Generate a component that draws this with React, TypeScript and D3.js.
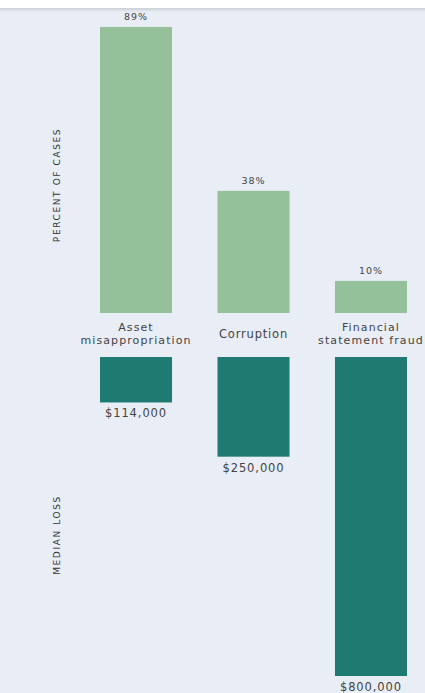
import React from "react";
import * as d3 from "d3";

const categories: string[][] = [["Asset", "misappropriation"], ["Corruption"], ["Financial", "statement fraud"]];
const categoryKeys = ["Asset misappropriation", "Corruption", "Financial statement fraud"];
const percentCases = [89, 38, 10];
const percentLabels = ["89%", "38%", "10%"];
const medianLoss = [114000, 250000, 800000];
const lossLabels = ["$114,000", "$250,000", "$800,000"];
const topTitle = "PERCENT OF CASES";
const bottomTitle = "MEDIAN LOSS";

const W = 425;
const H = 693;
const BG = "#e9edf5";
const LIGHT = "#95c19a";
const DARK = "#1f7b71";
const TEXT = "#444444";
const FONT = "'DejaVu Sans', Verdana, sans-serif";

export default function App() {
  const x = d3.scaleBand<string>().domain(categoryKeys).range([100, 407]).paddingInner(0.387).paddingOuter(0);
  const yTop = d3.scaleLinear().domain([0, 100]).range([313, -8.4]);
  const yBot = d3.scaleLinear().domain([0, 800000]).range([357, 676]);
  const bw = x.bandwidth();

  return (
    <div style={{ position: "fixed", left: 0, top: 0, width: W, height: H }}>
      <svg width={W} height={H} style={{ display: "block" }}>
        <defs>
          <linearGradient id="shadow" x1="0" y1="0" x2="0" y2="1">
            <stop offset="0" stopColor="#c9cdd4" />
            <stop offset="1" stopColor={BG} />
          </linearGradient>
        </defs>
        <rect x={0} y={0} width={W} height={H} fill={BG} />
        <rect x={0} y={0} width={W} height={8} fill="#ffffff" />
        <rect x={0} y={8} width={W} height={4} fill="url(#shadow)" />

        {categoryKeys.map((k, i) => {
          const cx = (x(k) as number) + bw / 2;
          const lines = categories[i];
          return (
            <g key={k}>
              <rect x={x(k)} y={yTop(percentCases[i])} width={bw} height={yTop(0) - yTop(percentCases[i])} fill={LIGHT} />
              <text x={cx} y={yTop(percentCases[i]) - 7} textAnchor="middle" fontFamily={FONT} fontSize={9.5} letterSpacing={1} fill={TEXT}>
                {percentLabels[i]}
              </text>
              {lines.length === 1 ? (
                <text x={cx} y={338} textAnchor="middle" fontFamily={FONT} fontSize={11.5} letterSpacing={0.8} fill={TEXT}>
                  {lines[0]}
                </text>
              ) : (
                lines.map((l, j) => (
                  <text key={j} x={cx} y={331 + j * 12.5} textAnchor="middle" fontFamily={FONT} fontSize={11} letterSpacing={1.1} fill={TEXT}>
                    {l}
                  </text>
                ))
              )}
              <rect x={x(k)} y={yBot(0)} width={bw} height={yBot(medianLoss[i]) - yBot(0)} fill={DARK} />
              <text x={cx} y={yBot(medianLoss[i]) + 15} textAnchor="middle" fontFamily={FONT} fontSize={11.5} letterSpacing={0.9} fill={TEXT}>
                {lossLabels[i]}
              </text>
            </g>
          );
        })}

        <text transform={`translate(60,185) rotate(-90)`} textAnchor="middle" fontFamily={FONT} fontSize={9} letterSpacing={1.6} fill="#333">
          {topTitle}
        </text>
        <text transform={`translate(60,535) rotate(-90)`} textAnchor="middle" fontFamily={FONT} fontSize={9} letterSpacing={1.6} fill="#333">
          {bottomTitle}
        </text>
      </svg>
    </div>
  );
}
